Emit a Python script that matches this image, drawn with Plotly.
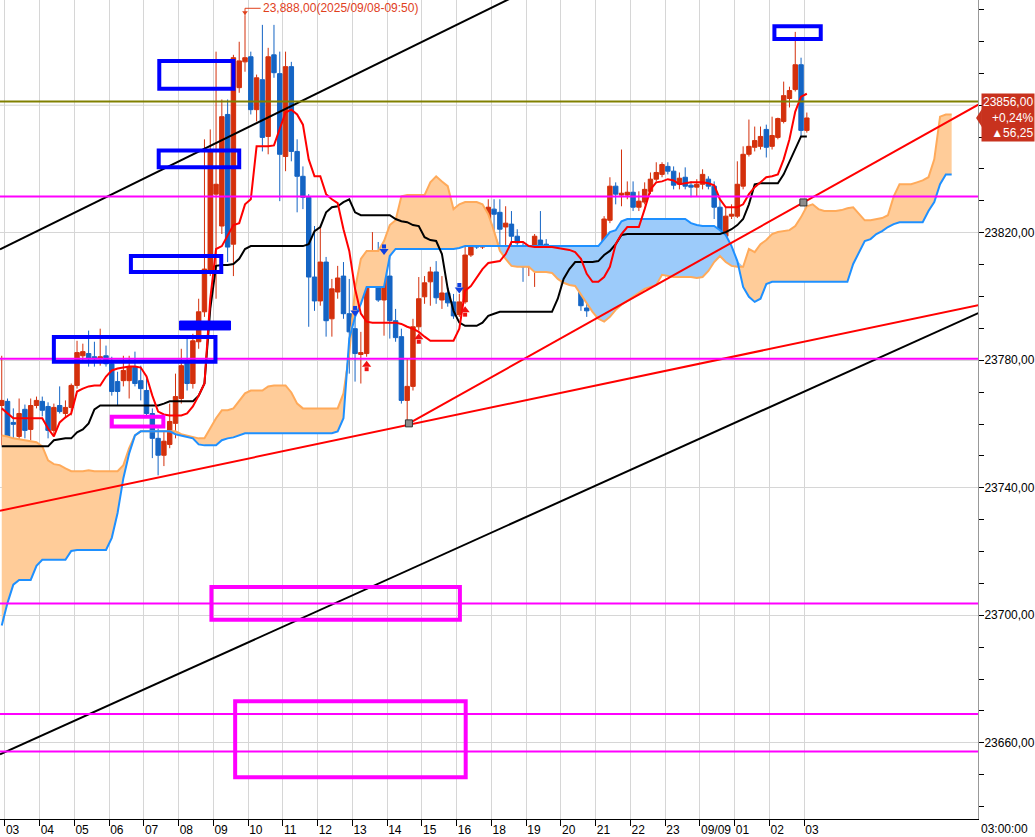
import plotly.graph_objects as go

# ---------------- data (10-minute bars, 09/08 03:00 -> 09/09 03:10) ----------------
open_ = [23765.8, 23767.1, 23760.5, 23756.1, 23764.6, 23758.3, 23765.8, 23767.1, 23765.5, 23758.0,
         23765.8, 23763.3, 23765.2, 23772.1, 23781.4, 23782.1, 23781.1, 23780.5, 23781.4, 23778.9,
         23773.3, 23773.6, 23773.6, 23778.0, 23773.6, 23770.5, 23763.3, 23755.5, 23750.2, 23753.6,
         23760.2, 23768.0, 23779.9, 23772.7, 23785.8, 23795.2, 23807.7, 23832.1, 23822.1, 23857.1,
         23816.4, 23865.5, 23873.6, 23875.2, 23858.6, 23868.0, 23850.2, 23875.8, 23869.9, 23843.9,
         23872.1, 23845.5, 23837.7, 23831.1, 23806.1, 23798.6, 23810.8, 23793.0, 23801.4, 23806.4,
         23794.6, 23789.9, 23781.8, 23782.1, 23811.4, 23813.0, 23798.9, 23806.4, 23792.4, 23787.4,
         23767.4, 23771.8, 23790.5, 23799.9, 23804.6, 23807.7, 23798.9, 23801.1, 23798.3, 23794.3,
         23798.3, 23813.0, 23818.0, 23815.5, 23818.9, 23827.4, 23826.4, 23821.8, 23822.7, 23818.9,
         23815.8, 23809.3, 23810.8, 23817.7, 23816.4, 23813.3, 23811.8, 23812.7, 23806.1, 23808.6,
         23805.2, 23796.4, 23797.1, 23808.0, 23815.8, 23823.9, 23834.6, 23831.8, 23831.8, 23832.7,
         23828.0, 23829.6, 23833.0, 23836.8, 23838.3, 23840.8, 23839.3, 23835.2, 23837.4, 23834.9,
         23834.3, 23835.2, 23836.8, 23834.6, 23828.0, 23818.9, 23825.2, 23825.2, 23834.6, 23844.6,
         23846.8, 23847.1, 23852.4, 23847.1, 23849.9, 23854.9, 23862.1, 23864.9, 23872.7, 23852.1]
high = [23781.4, 23768.0, 23764.9, 23768.0, 23766.1, 23768.0, 23768.6, 23768.6, 23766.8, 23766.4,
        23771.8, 23767.4, 23772.7, 23786.1, 23785.2, 23789.3, 23785.8, 23789.9, 23784.6, 23781.1,
        23776.4, 23781.4, 23781.4, 23782.7, 23778.3, 23774.3, 23764.9, 23758.6, 23757.7, 23766.4,
        23775.8, 23783.6, 23786.8, 23788.3, 23799.3, 23849.3, 23852.4, 23876.8, 23861.8, 23861.8,
        23875.8, 23879.9, 23888.0, 23876.8, 23869.6, 23885.2, 23878.0, 23885.2, 23876.8, 23876.8,
        23873.6, 23849.3, 23840.8, 23832.1, 23822.1, 23821.8, 23812.4, 23805.5, 23809.6, 23810.8,
        23805.5, 23793.6, 23788.9, 23812.7, 23820.2, 23817.1, 23812.4, 23813.9, 23796.1, 23789.9,
        23780.5, 23793.0, 23806.1, 23806.4, 23809.3, 23811.1, 23806.4, 23803.0, 23800.8, 23800.8,
        23815.8, 23820.2, 23821.1, 23822.1, 23830.5, 23830.5, 23830.5, 23828.3, 23826.8, 23821.1,
        23817.1, 23815.8, 23819.6, 23826.8, 23818.0, 23814.9, 23814.9, 23815.8, 23814.9, 23810.8,
        23807.7, 23798.3, 23809.6, 23815.8, 23825.2, 23837.4, 23835.8, 23846.1, 23836.1, 23836.1,
        23833.0, 23835.8, 23838.9, 23842.1, 23842.1, 23842.1, 23840.8, 23838.9, 23840.5, 23836.1,
        23836.8, 23839.9, 23837.7, 23836.1, 23830.5, 23828.0, 23828.9, 23842.4, 23847.1, 23855.5,
        23853.3, 23853.3, 23853.9, 23856.4, 23856.1, 23867.4, 23865.8, 23883.0, 23874.9, 23857.7]
low = [23753.3, 23753.9, 23741.4, 23754.9, 23755.5, 23754.9, 23764.9, 23762.4, 23755.5, 23756.1,
       23763.3, 23761.8, 23762.7, 23771.1, 23779.9, 23778.0, 23778.0, 23778.3, 23778.0, 23768.9,
       23765.8, 23771.8, 23768.0, 23771.8, 23767.4, 23762.4, 23749.3, 23743.9, 23746.8, 23752.4,
       23755.5, 23766.4, 23770.5, 23771.1, 23783.6, 23793.6, 23806.4, 23799.3, 23819.6, 23810.8,
       23806.4, 23863.9, 23870.5, 23857.1, 23854.9, 23845.5, 23844.6, 23868.6, 23829.9, 23839.3,
       23842.4, 23826.4, 23827.4, 23790.5, 23795.5, 23797.1, 23787.4, 23787.4, 23799.3, 23793.0,
       23775.8, 23773.3, 23772.7, 23781.1, 23808.6, 23798.3, 23787.7, 23786.8, 23785.8, 23766.4,
       23760.2, 23770.5, 23789.3, 23797.7, 23797.1, 23797.7, 23796.1, 23796.8, 23793.0, 23793.6,
       23797.7, 23812.4, 23814.9, 23814.9, 23818.0, 23815.8, 23815.8, 23815.8, 23815.8, 23814.9,
       23804.6, 23806.4, 23803.0, 23814.9, 23811.8, 23808.6, 23807.7, 23805.5, 23804.9, 23804.9,
       23795.5, 23793.6, 23796.1, 23807.1, 23814.9, 23823.0, 23828.9, 23828.3, 23830.5, 23826.8,
       23826.8, 23828.9, 23832.1, 23836.1, 23837.4, 23838.3, 23833.6, 23833.6, 23833.6, 23831.1,
       23831.4, 23833.6, 23833.6, 23824.3, 23814.9, 23818.0, 23824.3, 23824.6, 23833.6, 23843.9,
       23845.5, 23846.1, 23843.6, 23846.1, 23849.3, 23854.3, 23859.3, 23864.3, 23850.2, 23851.4]
close = [23767.4, 23756.1, 23759.9, 23763.3, 23758.0, 23765.8, 23767.4, 23764.3, 23758.0, 23765.2,
         23763.9, 23765.2, 23772.1, 23782.4, 23782.7, 23780.5, 23780.5, 23781.1, 23778.9, 23770.2,
         23770.2, 23776.8, 23778.0, 23772.7, 23771.1, 23763.3, 23755.5, 23750.2, 23754.6, 23760.8,
         23768.6, 23778.3, 23772.7, 23786.1, 23795.2, 23808.6, 23846.1, 23835.2, 23856.4, 23815.5,
         23874.9, 23873.9, 23874.9, 23858.6, 23868.6, 23849.9, 23875.2, 23870.2, 23844.6, 23872.1,
         23845.5, 23837.7, 23831.1, 23806.1, 23798.6, 23810.8, 23792.4, 23802.4, 23805.8, 23794.6,
         23788.9, 23782.1, 23782.4, 23811.1, 23813.0, 23798.9, 23806.4, 23792.4, 23787.1, 23767.4,
         23771.8, 23790.5, 23799.3, 23804.3, 23807.7, 23799.6, 23801.1, 23798.0, 23793.9, 23798.3,
         23813.0, 23818.0, 23815.5, 23820.5, 23828.0, 23825.8, 23821.1, 23823.0, 23818.9, 23816.8,
         23809.3, 23809.9, 23818.9, 23815.8, 23814.3, 23811.8, 23812.4, 23806.1, 23812.7, 23806.1,
         23797.1, 23795.5, 23808.0, 23814.9, 23824.3, 23834.6, 23832.1, 23832.4, 23832.7, 23828.0,
         23829.9, 23833.6, 23836.8, 23838.9, 23841.4, 23839.3, 23834.9, 23837.1, 23834.6, 23834.3,
         23835.2, 23838.3, 23834.6, 23828.0, 23818.9, 23825.2, 23825.8, 23835.2, 23844.6, 23847.1,
         23848.9, 23850.2, 23846.8, 23850.5, 23855.8, 23863.0, 23864.6, 23872.7, 23852.1, 23856.0]

tenkan = [23764.9, 23763.3, 23761.8, 23761.8, 23761.8, 23761.8, 23761.8, 23761.8, 23758.6, 23756.1,
          23760.5, 23762.1, 23763.3, 23770.2, 23771.1, 23771.8, 23772.1, 23772.1, 23774.9, 23776.8,
          23777.4, 23777.7, 23778.0, 23778.0, 23777.7, 23774.9, 23768.9, 23763.9, 23763.0, 23762.7,
          23762.7, 23762.7, 23763.3, 23765.5, 23768.9, 23772.7, 23799.3, 23814.9, 23815.8, 23819.3,
          23822.4, 23823.0, 23828.9, 23830.5, 23847.1, 23847.1, 23847.1, 23847.4, 23852.4, 23857.7,
          23858.6, 23857.1, 23853.9, 23843.0, 23837.7, 23837.7, 23832.1, 23830.5, 23829.3, 23821.1,
          23814.3, 23802.4, 23794.6, 23792.1, 23791.8, 23791.8, 23791.8, 23791.8, 23791.8, 23791.4,
          23790.5, 23789.9, 23788.9, 23787.4, 23786.1, 23786.1, 23786.1, 23786.1, 23786.1, 23789.9,
          23801.8, 23803.3, 23806.1, 23808.6, 23810.5, 23810.8, 23811.1, 23813.3, 23817.1, 23817.1,
          23817.1, 23815.8, 23815.5, 23815.5, 23815.5, 23815.5, 23815.2, 23814.9, 23814.6, 23813.9,
          23811.8, 23807.1, 23804.6, 23804.6, 23806.1, 23809.3, 23816.4, 23819.6, 23821.8, 23821.8,
          23821.8, 23827.4, 23833.6, 23835.8, 23836.1, 23836.8, 23836.4, 23835.2, 23835.5, 23835.8,
          23835.8, 23835.8, 23835.5, 23834.9, 23830.5, 23828.0, 23828.0, 23828.0, 23828.9, 23832.1,
          23834.3, 23835.8, 23837.4, 23837.7, 23838.3, 23843.0, 23849.3, 23858.0, 23862.7, 23863.6]

kijun = [23753.0, 23753.0, 23753.0, 23753.0, 23753.0, 23753.0, 23753.0, 23753.0, 23753.0, 23754.9,
         23755.2, 23755.5, 23755.5, 23757.4, 23758.3, 23760.2, 23764.6, 23765.8, 23765.8, 23765.8,
         23765.8, 23765.8, 23765.8, 23765.8, 23765.8, 23765.8, 23765.8, 23765.8, 23766.4, 23767.1,
         23767.1, 23767.1, 23767.1, 23767.1, 23768.9, 23772.7, 23796.1, 23809.6, 23809.9, 23809.9,
         23810.2, 23811.8, 23814.9, 23815.8, 23815.8, 23815.8, 23815.8, 23815.8, 23815.8, 23815.8,
         23815.8, 23815.8, 23815.8, 23816.4, 23820.5, 23821.8, 23826.4, 23828.0, 23828.3, 23829.6,
         23830.5, 23826.4, 23825.5, 23825.5, 23825.5, 23825.5, 23825.5, 23825.5, 23824.3, 23823.6,
         23823.3, 23822.4, 23822.1, 23818.6, 23817.7, 23817.4, 23813.3, 23802.4, 23795.5, 23791.8,
         23790.8, 23790.8, 23790.8, 23791.8, 23793.9, 23794.6, 23795.2, 23795.2, 23795.2, 23795.2,
         23795.2, 23795.2, 23795.2, 23795.2, 23795.2, 23795.2, 23799.3, 23805.5, 23808.6, 23810.8,
         23810.8, 23810.8, 23810.8, 23811.1, 23813.0, 23814.3, 23816.4, 23819.3, 23819.6, 23819.6,
         23819.6, 23819.6, 23819.6, 23819.6, 23819.6, 23819.6, 23819.6, 23819.6, 23819.6, 23819.6,
         23819.6, 23819.6, 23819.6, 23819.6, 23819.6, 23820.2, 23821.1, 23822.4, 23824.3, 23828.9,
         23835.2, 23835.5, 23835.5, 23835.5, 23835.5, 23838.3, 23842.1, 23846.1, 23850.2, 23850.2]

span_a = [23756.4, 23756.1, 23755.5, 23755.2, 23754.9, 23754.6, 23754.3, 23753.0, 23748.6, 23747.4,
          23747.1, 23746.1, 23745.2, 23745.2, 23745.2, 23745.5, 23745.2, 23745.2, 23745.2, 23745.2,
          23745.2, 23747.1, 23752.4, 23756.4, 23757.7, 23757.7, 23757.7, 23757.7, 23757.7, 23757.7,
          23757.7, 23756.8, 23756.4, 23756.1, 23755.5, 23755.5, 23758.6, 23761.8, 23764.3, 23764.3,
          23764.9, 23767.4, 23769.6, 23770.5, 23770.5, 23770.5, 23771.8, 23772.1, 23772.1, 23772.1,
          23769.9, 23766.4, 23764.9, 23764.9, 23764.9, 23764.9, 23764.9, 23764.9, 23764.9, 23769.6,
          23782.1, 23802.4, 23811.8, 23814.3, 23814.3, 23814.3, 23817.4, 23822.4, 23823.9, 23831.4,
          23831.8, 23831.8, 23831.8, 23831.8, 23835.8, 23837.7, 23836.1, 23834.6, 23827.4, 23828.9,
          23829.6, 23829.6, 23829.6, 23828.9, 23825.8, 23820.5, 23814.3, 23811.8, 23809.6, 23809.3,
          23809.3, 23809.3, 23807.7, 23807.7, 23807.7, 23807.4, 23805.5, 23804.3, 23803.6, 23803.3,
          23800.5, 23797.7, 23795.2, 23793.0, 23792.1, 23793.6, 23795.8, 23797.4, 23798.6, 23799.9,
          23801.1, 23802.4, 23803.0, 23803.6, 23806.8, 23806.4, 23806.1, 23806.1, 23806.1, 23806.1,
          23805.8, 23806.1, 23808.0, 23810.8, 23812.7, 23810.8, 23809.6, 23809.3, 23809.3, 23814.9,
          23813.9, 23816.4, 23817.7, 23819.6, 23820.2, 23820.5, 23820.8, 23822.1, 23824.9, 23828.3,
          23828.9, 23827.4, 23826.8, 23826.8, 23826.8, 23827.1, 23827.7, 23828.0, 23825.8, 23823.9,
          23823.9, 23824.3, 23824.6, 23825.5, 23831.4, 23835.2, 23835.2, 23835.2, 23835.8, 23836.4,
          23837.4, 23843.0, 23856.4, 23857.1, 23857.1]

span_b = [23696.8, 23703.9, 23709.6, 23711.1, 23711.1, 23711.1, 23715.5, 23717.4, 23717.4, 23717.4,
          23717.4, 23717.4, 23720.2, 23720.5, 23720.5, 23720.5, 23720.5, 23720.5, 23720.5, 23724.3,
          23732.1, 23743.0, 23750.8, 23756.4, 23757.7, 23757.7, 23757.7, 23757.7, 23757.7, 23757.7,
          23756.8, 23756.4, 23755.8, 23755.5, 23753.6, 23753.3, 23753.3, 23753.3, 23754.9, 23755.5,
          23755.8, 23756.4, 23757.1, 23757.1, 23757.1, 23757.1, 23757.1, 23757.1, 23757.1, 23757.1,
          23757.1, 23757.1, 23757.1, 23757.1, 23757.1, 23757.1, 23757.1, 23757.1, 23757.7, 23761.8,
          23786.8, 23793.6, 23797.7, 23803.0, 23803.0, 23803.0, 23803.0, 23812.7, 23814.9, 23814.9,
          23814.9, 23814.9, 23814.9, 23814.9, 23814.9, 23814.9, 23814.9, 23814.9, 23814.9, 23815.2,
          23815.8, 23815.8, 23815.8, 23815.8, 23815.8, 23815.8, 23815.8, 23815.8, 23815.8, 23815.8,
          23815.8, 23815.8, 23815.8, 23815.8, 23815.8, 23815.8, 23815.8, 23815.8, 23815.8, 23815.8,
          23815.8, 23815.8, 23815.8, 23815.8, 23818.0, 23820.2, 23820.8, 23823.6, 23824.3, 23824.3,
          23824.3, 23824.3, 23824.3, 23824.3, 23824.3, 23824.3, 23824.3, 23824.3, 23824.3, 23823.0,
          23822.4, 23822.1, 23822.1, 23822.1, 23820.8, 23819.3, 23815.8, 23811.1, 23803.0, 23799.9,
          23798.3, 23799.3, 23803.9, 23804.6, 23804.6, 23804.6, 23804.6, 23804.6, 23804.6, 23804.6,
          23804.6, 23804.6, 23804.6, 23804.6, 23804.6, 23804.6, 23804.6, 23810.2, 23813.9, 23817.4,
          23818.0, 23819.6, 23820.5, 23821.8, 23822.7, 23823.3, 23823.3, 23823.3, 23823.3, 23823.3,
          23826.8, 23829.6, 23835.2, 23838.3, 23838.3]

tick_idx = [0, 6, 12, 18, 24, 30, 36, 42, 48, 54, 60, 66, 72, 78, 84, 90, 96, 102, 108, 114, 120, 126, 132, 138]
tick_labels = ["03", "04", "05", "06", "07", "08", "09", "10", "11", "12", "13", "14", "15", "16",
               "18", "19", "20", "21", "22", "23", "09/09", "01", "02", "03"]
price_ticks = [23660, 23700, 23740, 23780, 23820]
hidden_grid_level = 23860   # grid line whose label sits under the price tag

magenta_levels = [23831.4, 23780.5, 23703.7, 23669.0, 23657.3]
olive_level = 23861.2

# drawn trend lines: (x0, y0, x1, y1) in bar index / price
black_lines = [(-0.3, 23814.8, 95.0, 23899.9), (-0.3, 23656.4, 168.6, 23794.8)]
red_lines = [(-0.3, 23732.8, 168.6, 23797.3), (70.3, 23760.2, 168.6, 23860.2)]
anchor_x = [70.3, 138.4]
anchor_y = [23760.2, 23829.5]

# drawn boxes: (x0, x1, y0, y1)
blue_boxes = [(27.2, 40.0, 23865.2, 23873.9), (27.1, 41.0, 23840.5, 23845.8),
              (22.3, 37.9, 23807.7, 23812.7), (9.0, 36.9, 23779.5, 23787.3),
              (133.4, 141.4, 23880.8, 23884.8)]
blue_bar = (30.7, 39.5, 23789.5, 23792.3)
magenta_boxes = [(19.0, 27.9, 23759.2, 23762.3), (36.2, 79.1, 23698.6, 23708.9),
                 (40.3, 80.1, 23649.2, 23673.0)]

sig_dn_x = [61, 66, 79]
sig_dn_y = [23795.5, 23814.8, 23802.7]
sig_up_x = [63, 72, 80]
sig_up_y = [23778.1, 23786.7, 23795.2]

hi_idx = 42
hi_val = 23888.0
last_price = 23856.0

# ---------------- figure ----------------
idx = list(range(len(close)))
ext = list(range(len(span_a)))
upper = [max(a, b) for a, b in zip(span_a, span_b)]

fig = go.Figure()
# cloud: orange where span A above span B, blue where span B above span A
fig.add_trace(go.Scatter(x=ext, y=span_b, mode="lines", line=dict(width=0), hoverinfo="skip"))
fig.add_trace(go.Scatter(x=ext, y=upper, mode="lines", line=dict(width=0), fill="tonexty",
                         fillcolor="#FFCC99", hoverinfo="skip"))
fig.add_trace(go.Scatter(x=ext, y=span_a, mode="lines", line=dict(width=0), hoverinfo="skip"))
fig.add_trace(go.Scatter(x=ext, y=upper, mode="lines", line=dict(width=0), fill="tonexty",
                         fillcolor="#9CCBFA", hoverinfo="skip"))
fig.add_trace(go.Scatter(x=ext, y=span_a, mode="lines", line=dict(color="#FFAA5A", width=2)))
fig.add_trace(go.Scatter(x=ext, y=span_b, mode="lines", line=dict(color="#1E90FF", width=2)))
fig.add_trace(go.Scatter(x=idx, y=kijun, mode="lines", line=dict(color="#000000", width=2)))
fig.add_trace(go.Scatter(x=idx, y=tenkan, mode="lines", line=dict(color="#FF0000", width=2)))

fig.add_trace(go.Candlestick(
    x=idx, open=open_, high=high, low=low, close=close,
    increasing=dict(line=dict(color="#D4300C", width=1), fillcolor="#D4300C"),
    decreasing=dict(line=dict(color="#1464C4", width=1), fillcolor="#1464C4"),
    whiskerwidth=0, hoverinfo="skip"))

for (x0, y0, x1, y1) in black_lines:
    fig.add_trace(go.Scatter(x=[x0, x1], y=[y0, y1], mode="lines", line=dict(color="#000000", width=2)))
for (x0, y0, x1, y1) in red_lines:
    fig.add_trace(go.Scatter(x=[x0, x1], y=[y0, y1], mode="lines", line=dict(color="#FF0000", width=2)))
fig.add_trace(go.Scatter(x=anchor_x, y=anchor_y, mode="markers",
                         marker=dict(symbol="square", size=7, color="#8C8C8C", line=dict(color="#333333", width=1))))

# signal arrows (stem + head)
fig.add_trace(go.Scatter(x=sig_dn_x, y=[v + 0.9 for v in sig_dn_y], mode="markers",
                         marker=dict(symbol="square", size=4, color="#1040E0", line=dict(width=0))))
fig.add_trace(go.Scatter(x=sig_dn_x, y=[v - 0.5 for v in sig_dn_y], mode="markers",
                         marker=dict(symbol="triangle-down", size=8, color="#1040E0", line=dict(width=0))))
fig.add_trace(go.Scatter(x=sig_up_x, y=[v - 0.9 for v in sig_up_y], mode="markers",
                         marker=dict(symbol="square", size=4, color="#F01010", line=dict(width=0))))
fig.add_trace(go.Scatter(x=sig_up_x, y=[v + 0.5 for v in sig_up_y], mode="markers",
                         marker=dict(symbol="triangle-up", size=8, color="#F01010", line=dict(width=0))))

shapes = []
shapes.append(dict(type="line", xref="paper", x0=0, x1=1, yref="y", y0=hidden_grid_level, y1=hidden_grid_level,
                   line=dict(color="#D6D6D6", width=1), layer="below"))
for lv in magenta_levels:
    shapes.append(dict(type="line", xref="paper", x0=0, x1=1, yref="y", y0=lv, y1=lv,
                       line=dict(color="#FF00FF", width=2), layer="above"))
shapes.append(dict(type="line", xref="paper", x0=0, x1=1, yref="y", y0=olive_level, y1=olive_level,
                   line=dict(color="#808000", width=2), layer="above"))
for (x0, x1, y0, y1) in blue_boxes:
    shapes.append(dict(type="rect", xref="x", yref="y", x0=x0, x1=x1, y0=y0, y1=y1,
                       line=dict(color="#0000FF", width=4), layer="above"))
shapes.append(dict(type="rect", xref="x", yref="y", x0=blue_bar[0], x1=blue_bar[1], y0=blue_bar[2], y1=blue_bar[3],
                   line=dict(color="#0000FF", width=1), fillcolor="#0000FF", layer="above"))
for (x0, x1, y0, y1) in magenta_boxes:
    shapes.append(dict(type="rect", xref="x", yref="y", x0=x0, x1=x1, y0=y0, y1=y1,
                       line=dict(color="#FF00FF", width=4), layer="above"))
# high marker leader
shapes.append(dict(type="line", xref="x", yref="y", x0=hi_idx, x1=hi_idx, y0=hi_val, y1=hi_val + 2.4,
                   line=dict(color="#E0401C", width=1), layer="above"))
shapes.append(dict(type="line", xref="x", yref="y", x0=hi_idx, x1=hi_idx + 2.7, y0=hi_val + 2.4, y1=hi_val + 2.4,
                   line=dict(color="#E0401C", width=1), layer="above"))
# price tag notch
shapes.append(dict(type="path", xref="paper", yref="y",
                   path="M 0.998 23856.0 L 1.004 23858.8 L 1.004 23853.2 Z",
                   fillcolor="#C8321E", line=dict(width=0), layer="above"))
fig.update_layout(shapes=shapes)

fig.add_trace(go.Scatter(x=[hi_idx], y=[hi_val + 1.1], mode="markers",
                         marker=dict(symbol="triangle-down", size=5, color="#E0401C")))

fig.add_annotation(x=hi_idx + 2.8, y=hi_val + 2.4, xref="x", yref="y", text="23,888,00(2025/09/08-09:50)",
                   showarrow=False, xanchor="left", yanchor="middle",
                   font=dict(family="Liberation Sans", size=12, color="#E0401C"))
fig.add_annotation(x=1.003, y=last_price, xref="paper", yref="y",
                   text="23856,00<br>+0,24%<br>▲56,25", showarrow=False, xanchor="left", yanchor="middle",
                   align="right", bgcolor="#C8321E", borderpad=1,
                   font=dict(family="Liberation Sans", size=12, color="#FFFFFF"))
fig.add_annotation(x=1.053, y=0, xref="paper", yref="paper", text="03:00:00", showarrow=False,
                   xanchor="right", yanchor="top", yshift=-1,
                   font=dict(family="Liberation Sans", size=12, color="#000000"))

fig.update_layout(
    width=1035, height=837,
    margin=dict(l=0, r=54, t=0, b=15),
    paper_bgcolor="white", plot_bgcolor="white",
    showlegend=False,
    boxgap=0.15, boxgroupgap=0.1,
    font=dict(family="Liberation Sans", size=12, color="#000000"),
)
fig.update_xaxes(
    range=[-0.3, 168.55], rangeslider=dict(visible=False),
    tickmode="array", tickvals=[t + 0.55 for t in tick_idx], ticktext=tick_labels,
    ticks="outside", ticklen=6, tickcolor="#000000", ticklabelposition="outside right",
    showgrid=True, gridcolor="#D6D6D6", gridwidth=1,
    showline=True, linecolor="#000000", linewidth=1, zeroline=False,
    tickfont=dict(family="Liberation Sans", size=12, color="#000000"),
)
fig.update_yaxes(
    side="right", range=[23636.1, 23893.0],
    tickmode="array", tickvals=price_ticks, ticktext=[f"{v},00" for v in price_ticks],
    ticks="outside", ticklen=5, tickcolor="#000000", ticklabelstandoff=-2,
    minor=dict(tickmode="linear", tick0=23600, dtick=10, ticks="outside", ticklen=5,
               tickcolor="#000000", showgrid=False),
    showgrid=True, gridcolor="#D6D6D6", gridwidth=1,
    showline=True, linecolor="#999999", linewidth=1, zeroline=False,
    tickfont=dict(family="Liberation Sans", size=12, color="#000000"),
)

fig.write_html("out.html",
               config={"displayModeBar": False},
               post_script="document.body.style.margin='0';document.body.style.padding='0';"
                           "document.body.style.overflow='hidden';")
